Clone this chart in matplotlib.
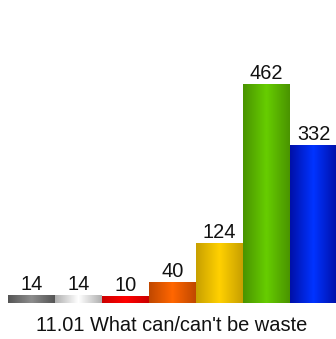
import numpy as np
import matplotlib
matplotlib.use("Agg")
import matplotlib.pyplot as plt
from matplotlib.colors import LinearSegmentedColormap

# data
values = [14, 14, 10, 40, 124, 462, 332]
edge_colors = ["#555555", "#b0b0b0", "#cc0000", "#c04800", "#c8a000", "#4a9400", "#0010a8"]
center_colors = ["#8c8c8c", "#ffffff", "#ff0000", "#ff6600", "#ffd000", "#66cc00", "#0033ff"]
title = "11.01 What can/can't be waste"

plt.rcParams['font.family'] = ['Liberation Sans', 'DejaVu Sans']

W, H = 336, 339
fig = plt.figure(figsize=(W / 100, H / 100), dpi=100)
ax = fig.add_axes([8 / W, 36 / H, 329 / W, 303 / H])
ax.set_axis_off()

y0 = -2.8  # bars start a hair below zero
x = np.arange(len(values))
bars = ax.bar(x, np.array(values) - y0, bottom=y0, width=1.0, color="none")

grad = np.linspace(0, 1, 64)
grad = 1 - np.abs(grad * 2 - 1)  # 0 at edges, 1 in middle
for b, v, ec, cc in zip(bars, values, edge_colors, center_colors):
    cmap = LinearSegmentedColormap.from_list("g", [ec, cc])
    x0, w = b.get_x(), b.get_width()
    ax.imshow(grad[np.newaxis, :], cmap=cmap, aspect="auto",
              extent=(x0, x0 + w, y0, v), interpolation="bilinear", zorder=2)
    ax.annotate(str(v), (x0 + w / 2, v), xytext=(0, 4), textcoords="offset points",
                ha="center", va="baseline", fontsize=14.4, color="#111111")

ax.set_xlim(-0.5, len(values) - 0.5)
ax.set_ylim(y0, 643)

fig.text(172 / W, (H - 331) / H, title, ha="center", va="baseline",
         fontsize=14.4, color="#111111")

fig.savefig("out.png", dpi=100)
